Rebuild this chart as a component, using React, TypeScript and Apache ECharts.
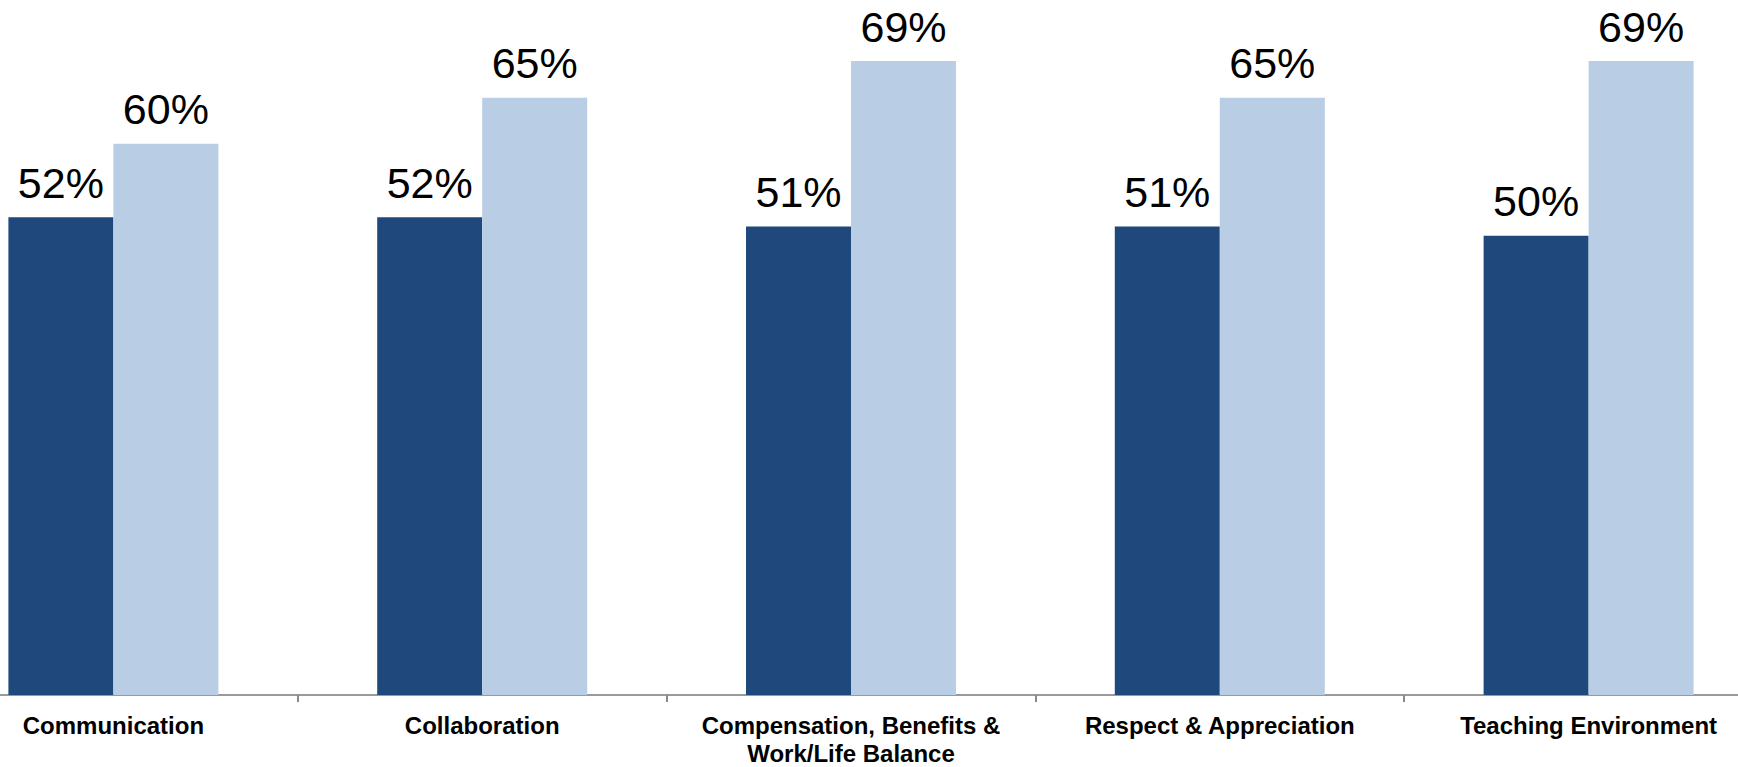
import React, { useEffect, useRef } from "react";
import * as echarts from "echarts";

const categories = [
  "Communication",
  "Collaboration",
  "Compensation, Benefits &\nWork/Life Balance",
  "Respect & Appreciation",
  "Teaching Environment",
];
const seriesAValues = [52, 52, 51, 51, 50];
const seriesBValues = [60, 65, 69, 65, 69];
const yMin = 0;
const yMax = 75;

export default function App() {
  const ref = useRef<HTMLDivElement>(null);
  useEffect(() => {
    if (!ref.current) return;
    const chart = echarts.init(ref.current, undefined, { renderer: "svg" });
    const labelStyle = {
      show: true,
      position: "top" as const,
      distance: 13,
      formatter: "{c}%",
      fontFamily: "Liberation Sans, Arial, sans-serif",
      fontSize: 43,
      color: "#000",
    };
    chart.setOption({
      animation: false,
      backgroundColor: "#fff",
      grid: { left: 0, right: 0, top: 6, bottom: 67, containLabel: false },
      xAxis: {
        type: "category",
        data: categories,
        boundaryGap: true,
        axisLine: { show: true, lineStyle: { color: "#9a9a9a", width: 2 } },
        axisTick: { show: true, length: 7, lineStyle: { color: "#8a8a8a", width: 2 } },
        axisLabel: {
          interval: 0,
          margin: 16,
          fontFamily: "Liberation Sans, Arial, sans-serif",
          fontWeight: "bold",
          fontSize: 24,
          lineHeight: 28,
          color: "#000",
        },
      },
      yAxis: {
        type: "value",
        min: yMin,
        max: yMax,
        show: false,
        splitLine: { show: false },
      },
      series: [
        {
          name: "Series A",
          type: "bar",
          data: seriesAValues,
          barWidth: 105,
          barGap: "0%",
          itemStyle: { color: "#1F497D" },
          label: labelStyle,
        },
        {
          name: "Series B",
          type: "bar",
          data: seriesBValues,
          barWidth: 105,
          barGap: "0%",
          itemStyle: { color: "#B9CDE5" },
          label: labelStyle,
        },
      ],
    });
    return () => chart.dispose();
  }, []);
  return (
    <div
      style={{
        position: "absolute",
        left: 0,
        top: 0,
        width: 1738,
        height: 767,
        overflow: "hidden",
        background: "#fff",
      }}
    >
      <div
        ref={ref}
        style={{ position: "absolute", left: -71, top: 0, width: 1844, height: 767 }}
      />
    </div>
  );
}
